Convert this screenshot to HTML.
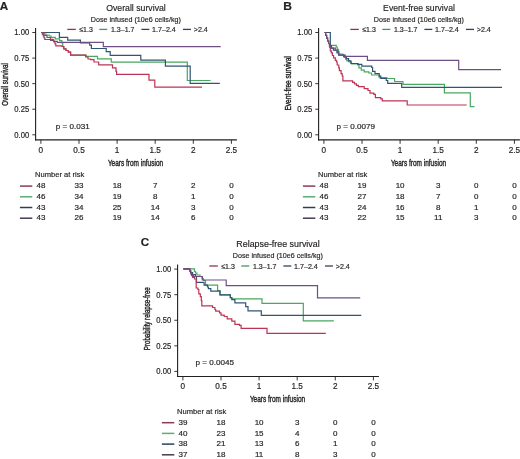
<!DOCTYPE html>
<html><head><meta charset="utf-8"><style>
html,body{margin:0;padding:0;background:#fff;}
svg{display:block;filter:blur(0.3px);}
text{font-family:"Liberation Sans", sans-serif;fill:#231f20;stroke:#231f20;stroke-width:0.18px;}
text.cd{stroke-width:0.4px;}
</style></head><body>
<svg width="520" height="459" viewBox="0 0 520 459">
<rect width="520" height="459" fill="#fff"/>
<text x="-0.30" y="9.80" font-size="10.6" text-anchor="start" font-weight="bold" textLength="8.4" lengthAdjust="spacingAndGlyphs">A</text>
<text x="136.00" y="10.60" font-size="9.8" text-anchor="middle" textLength="59.6" lengthAdjust="spacingAndGlyphs">Overall survival</text>
<text x="135.80" y="21.80" font-size="7.6" text-anchor="middle" textLength="90.0" lengthAdjust="spacingAndGlyphs">Dose infused (10e6 cells/kg)</text>
<line x1="67.30" y1="29.40" x2="75.80" y2="29.40" stroke="#983050" stroke-width="1.3"/>
<text x="79.20" y="31.95" font-size="7.6" text-anchor="start" textLength="13.6" lengthAdjust="spacingAndGlyphs">&#8804;1.3</text>
<line x1="99.30" y1="29.40" x2="107.30" y2="29.40" stroke="#4a9462" stroke-width="1.3"/>
<text x="111.00" y="31.95" font-size="7.6" text-anchor="start" textLength="23.4" lengthAdjust="spacingAndGlyphs">1.3&#8211;1.7</text>
<line x1="141.40" y1="29.40" x2="149.30" y2="29.40" stroke="#2a4560" stroke-width="1.3"/>
<text x="152.00" y="31.95" font-size="7.6" text-anchor="start" textLength="23.8" lengthAdjust="spacingAndGlyphs">1.7&#8211;2.4</text>
<line x1="183.00" y1="29.40" x2="191.00" y2="29.40" stroke="#4a3558" stroke-width="1.3"/>
<text x="193.80" y="31.95" font-size="7.6" text-anchor="start" textLength="14.0" lengthAdjust="spacingAndGlyphs">&gt;2.4</text>
<line x1="35.60" y1="28.00" x2="35.60" y2="140.40" stroke="#231f20" stroke-width="1.1"/>
<line x1="35.05" y1="139.90" x2="236.90" y2="139.90" stroke="#231f20" stroke-width="1.1"/>
<line x1="32.30" y1="32.50" x2="35.60" y2="32.50" stroke="#231f20" stroke-width="0.9"/>
<text x="29.20" y="35.40" font-size="8.2" text-anchor="end" textLength="14.9" lengthAdjust="spacingAndGlyphs">1.00</text>
<line x1="32.30" y1="58.08" x2="35.60" y2="58.08" stroke="#231f20" stroke-width="0.9"/>
<text x="29.20" y="60.98" font-size="8.2" text-anchor="end" textLength="14.9" lengthAdjust="spacingAndGlyphs">0.75</text>
<line x1="32.30" y1="83.65" x2="35.60" y2="83.65" stroke="#231f20" stroke-width="0.9"/>
<text x="29.20" y="86.55" font-size="8.2" text-anchor="end" textLength="14.9" lengthAdjust="spacingAndGlyphs">0.50</text>
<line x1="32.30" y1="109.23" x2="35.60" y2="109.23" stroke="#231f20" stroke-width="0.9"/>
<text x="29.20" y="112.13" font-size="8.2" text-anchor="end" textLength="14.9" lengthAdjust="spacingAndGlyphs">0.25</text>
<line x1="32.30" y1="134.80" x2="35.60" y2="134.80" stroke="#231f20" stroke-width="0.9"/>
<text x="29.20" y="137.70" font-size="8.2" text-anchor="end" textLength="14.9" lengthAdjust="spacingAndGlyphs">0.00</text>
<line x1="40.90" y1="139.90" x2="40.90" y2="143.80" stroke="#231f20" stroke-width="0.9"/>
<text x="40.90" y="152.70" font-size="8.2" text-anchor="middle">0</text>
<line x1="79.00" y1="139.90" x2="79.00" y2="143.80" stroke="#231f20" stroke-width="0.9"/>
<text x="79.00" y="152.70" font-size="8.2" text-anchor="middle">0.5</text>
<line x1="117.10" y1="139.90" x2="117.10" y2="143.80" stroke="#231f20" stroke-width="0.9"/>
<text x="117.10" y="152.70" font-size="8.2" text-anchor="middle">1</text>
<line x1="155.20" y1="139.90" x2="155.20" y2="143.80" stroke="#231f20" stroke-width="0.9"/>
<text x="155.20" y="152.70" font-size="8.2" text-anchor="middle">1.5</text>
<line x1="193.30" y1="139.90" x2="193.30" y2="143.80" stroke="#231f20" stroke-width="0.9"/>
<text x="193.30" y="152.70" font-size="8.2" text-anchor="middle">2</text>
<line x1="231.40" y1="139.90" x2="231.40" y2="143.80" stroke="#231f20" stroke-width="0.9"/>
<text x="231.40" y="152.70" font-size="8.2" text-anchor="middle">2.5</text>
<text x="135.50" y="165.80" font-size="9.2" text-anchor="middle" textLength="55.2" lengthAdjust="spacingAndGlyphs" class="cd">Years from infusion</text>
<text class="cd" x="0" y="0" font-size="9.1" text-anchor="middle" textLength="42.6" lengthAdjust="spacingAndGlyphs" transform="translate(8.10,84.40) rotate(-90)">Overall survival</text>
<text x="72.70" y="128.70" font-size="7.8" text-anchor="middle" textLength="33.9" lengthAdjust="spacingAndGlyphs">p = 0.031</text>
<text x="35.10" y="177.40" font-size="8.0" text-anchor="start" textLength="49.1" lengthAdjust="spacingAndGlyphs">Number at risk</text>
<line x1="19.90" y1="186.10" x2="32.30" y2="186.10" stroke="#8e3a55" stroke-width="1.5"/>
<text x="40.90" y="188.25" font-size="8.0" text-anchor="middle">48</text>
<text x="79.00" y="188.25" font-size="8.0" text-anchor="middle">33</text>
<text x="117.10" y="188.25" font-size="8.0" text-anchor="middle">18</text>
<text x="155.20" y="188.25" font-size="8.0" text-anchor="middle">7</text>
<text x="193.30" y="188.25" font-size="8.0" text-anchor="middle">2</text>
<text x="231.40" y="188.25" font-size="8.0" text-anchor="middle">0</text>
<line x1="19.90" y1="196.80" x2="32.30" y2="196.80" stroke="#5aae76" stroke-width="1.5"/>
<text x="40.90" y="198.95" font-size="8.0" text-anchor="middle">46</text>
<text x="79.00" y="198.95" font-size="8.0" text-anchor="middle">34</text>
<text x="117.10" y="198.95" font-size="8.0" text-anchor="middle">19</text>
<text x="155.20" y="198.95" font-size="8.0" text-anchor="middle">8</text>
<text x="193.30" y="198.95" font-size="8.0" text-anchor="middle">1</text>
<text x="231.40" y="198.95" font-size="8.0" text-anchor="middle">0</text>
<line x1="19.90" y1="207.50" x2="32.30" y2="207.50" stroke="#24405e" stroke-width="1.5"/>
<text x="40.90" y="209.65" font-size="8.0" text-anchor="middle">43</text>
<text x="79.00" y="209.65" font-size="8.0" text-anchor="middle">34</text>
<text x="117.10" y="209.65" font-size="8.0" text-anchor="middle">25</text>
<text x="155.20" y="209.65" font-size="8.0" text-anchor="middle">14</text>
<text x="193.30" y="209.65" font-size="8.0" text-anchor="middle">3</text>
<text x="231.40" y="209.65" font-size="8.0" text-anchor="middle">0</text>
<line x1="19.90" y1="218.20" x2="32.30" y2="218.20" stroke="#4a3852" stroke-width="1.5"/>
<text x="40.90" y="220.35" font-size="8.0" text-anchor="middle">43</text>
<text x="79.00" y="220.35" font-size="8.0" text-anchor="middle">26</text>
<text x="117.10" y="220.35" font-size="8.0" text-anchor="middle">19</text>
<text x="155.20" y="220.35" font-size="8.0" text-anchor="middle">14</text>
<text x="193.30" y="220.35" font-size="8.0" text-anchor="middle">6</text>
<text x="231.40" y="220.35" font-size="8.0" text-anchor="middle">0</text>
<polyline points="41.40,32.50 43.50,32.50 43.50,34.00 46.00,34.00 46.00,35.00 49.20,35.00 49.20,36.00 51.00,36.00 51.00,37.30 55.30,37.30 55.30,38.80 59.60,38.80 59.60,40.60 61.80,40.60 61.80,43.00 62.80,43.00 62.80,46.50 63.80,46.50 63.80,48.80 66.00,48.80 66.00,50.50 68.30,50.50 68.30,52.20 70.60,52.20 70.60,55.10 86.20,55.10 86.20,56.30 97.50,56.30 97.50,58.90 111.30,58.90 111.30,62.20 187.30,62.20 187.30,80.50 210.60,80.50" fill="none" stroke="#48a85e" stroke-width="1.2" stroke-linejoin="miter"/>
<polyline points="41.40,32.50 59.40,32.50 59.40,37.30 67.70,37.30 67.70,40.10 80.40,40.10 80.40,42.80 89.70,42.80 89.70,45.10 91.40,45.10 91.40,48.50 106.20,48.50 106.20,51.70 110.20,51.70 110.20,55.30 140.80,55.30 140.80,60.10 165.40,60.10 165.40,66.20 190.20,66.20 190.20,83.40 219.80,83.40" fill="none" stroke="#2f5573" stroke-width="1.2" stroke-linejoin="miter"/>
<polyline points="41.40,32.50 44.00,32.50 44.00,35.50 47.00,35.50 47.00,37.50 50.40,37.50 50.40,39.30 53.00,39.30 53.00,40.00 54.00,40.00 54.00,41.80 55.00,41.80 55.00,43.80 55.80,43.80 55.80,45.90 62.00,45.90 62.00,46.50 63.80,46.50 63.80,48.80 66.00,48.80 66.00,50.50 68.30,50.50 68.30,52.20 70.60,52.20 70.60,55.10 85.60,55.10 85.60,57.00 88.00,57.00 88.00,59.00 90.50,59.00 90.50,59.70 94.00,59.70 94.00,62.00 98.70,62.00 98.70,64.90 112.50,64.90 112.50,67.80 116.00,67.80 116.00,71.30 116.60,71.30 116.60,74.40 149.00,74.40 149.00,80.10 154.80,80.10 154.80,87.10 202.00,87.10" fill="none" stroke="#bc3355" stroke-width="1.2" stroke-linejoin="miter"/>
<polyline points="41.40,32.50 42.30,32.50 42.30,34.20 43.20,34.20 43.20,36.00 44.00,36.00 44.00,37.80 44.80,37.80 44.80,39.50 50.60,39.50 50.60,40.40 53.50,40.40 53.50,41.40 57.30,41.40 57.30,42.40 103.30,42.40 103.30,46.60 220.70,46.60" fill="none" stroke="#6e4f84" stroke-width="1.2" stroke-linejoin="miter"/>
<text x="283.20" y="9.80" font-size="10.6" text-anchor="start" font-weight="bold" textLength="8.7" lengthAdjust="spacingAndGlyphs">B</text>
<text x="419.00" y="10.60" font-size="9.8" text-anchor="middle" textLength="71.8" lengthAdjust="spacingAndGlyphs">Event-free survival</text>
<text x="418.80" y="21.80" font-size="7.6" text-anchor="middle" textLength="90.0" lengthAdjust="spacingAndGlyphs">Dose infused (10e6 cells/kg)</text>
<line x1="350.30" y1="29.40" x2="358.80" y2="29.40" stroke="#983050" stroke-width="1.3"/>
<text x="362.20" y="31.95" font-size="7.6" text-anchor="start" textLength="13.6" lengthAdjust="spacingAndGlyphs">&#8804;1.3</text>
<line x1="382.30" y1="29.40" x2="390.30" y2="29.40" stroke="#4a9462" stroke-width="1.3"/>
<text x="394.00" y="31.95" font-size="7.6" text-anchor="start" textLength="23.4" lengthAdjust="spacingAndGlyphs">1.3&#8211;1.7</text>
<line x1="424.40" y1="29.40" x2="432.30" y2="29.40" stroke="#2a4560" stroke-width="1.3"/>
<text x="435.00" y="31.95" font-size="7.6" text-anchor="start" textLength="23.8" lengthAdjust="spacingAndGlyphs">1.7&#8211;2.4</text>
<line x1="466.00" y1="29.40" x2="474.00" y2="29.40" stroke="#4a3558" stroke-width="1.3"/>
<text x="476.80" y="31.95" font-size="7.6" text-anchor="start" textLength="14.0" lengthAdjust="spacingAndGlyphs">&gt;2.4</text>
<line x1="318.60" y1="28.00" x2="318.60" y2="140.40" stroke="#231f20" stroke-width="1.1"/>
<line x1="318.05" y1="139.90" x2="519.90" y2="139.90" stroke="#231f20" stroke-width="1.1"/>
<line x1="315.30" y1="32.50" x2="318.60" y2="32.50" stroke="#231f20" stroke-width="0.9"/>
<text x="312.20" y="35.40" font-size="8.2" text-anchor="end" textLength="14.9" lengthAdjust="spacingAndGlyphs">1.00</text>
<line x1="315.30" y1="58.08" x2="318.60" y2="58.08" stroke="#231f20" stroke-width="0.9"/>
<text x="312.20" y="60.98" font-size="8.2" text-anchor="end" textLength="14.9" lengthAdjust="spacingAndGlyphs">0.75</text>
<line x1="315.30" y1="83.65" x2="318.60" y2="83.65" stroke="#231f20" stroke-width="0.9"/>
<text x="312.20" y="86.55" font-size="8.2" text-anchor="end" textLength="14.9" lengthAdjust="spacingAndGlyphs">0.50</text>
<line x1="315.30" y1="109.23" x2="318.60" y2="109.23" stroke="#231f20" stroke-width="0.9"/>
<text x="312.20" y="112.13" font-size="8.2" text-anchor="end" textLength="14.9" lengthAdjust="spacingAndGlyphs">0.25</text>
<line x1="315.30" y1="134.80" x2="318.60" y2="134.80" stroke="#231f20" stroke-width="0.9"/>
<text x="312.20" y="137.70" font-size="8.2" text-anchor="end" textLength="14.9" lengthAdjust="spacingAndGlyphs">0.00</text>
<line x1="323.90" y1="139.90" x2="323.90" y2="143.80" stroke="#231f20" stroke-width="0.9"/>
<text x="323.90" y="152.70" font-size="8.2" text-anchor="middle">0</text>
<line x1="362.00" y1="139.90" x2="362.00" y2="143.80" stroke="#231f20" stroke-width="0.9"/>
<text x="362.00" y="152.70" font-size="8.2" text-anchor="middle">0.5</text>
<line x1="400.10" y1="139.90" x2="400.10" y2="143.80" stroke="#231f20" stroke-width="0.9"/>
<text x="400.10" y="152.70" font-size="8.2" text-anchor="middle">1</text>
<line x1="438.20" y1="139.90" x2="438.20" y2="143.80" stroke="#231f20" stroke-width="0.9"/>
<text x="438.20" y="152.70" font-size="8.2" text-anchor="middle">1.5</text>
<line x1="476.30" y1="139.90" x2="476.30" y2="143.80" stroke="#231f20" stroke-width="0.9"/>
<text x="476.30" y="152.70" font-size="8.2" text-anchor="middle">2</text>
<line x1="514.40" y1="139.90" x2="514.40" y2="143.80" stroke="#231f20" stroke-width="0.9"/>
<text x="514.40" y="152.70" font-size="8.2" text-anchor="middle">2.5</text>
<text x="418.50" y="165.80" font-size="9.2" text-anchor="middle" textLength="55.2" lengthAdjust="spacingAndGlyphs" class="cd">Years from infusion</text>
<text class="cd" x="0" y="0" font-size="9.1" text-anchor="middle" textLength="54.3" lengthAdjust="spacingAndGlyphs" transform="translate(291.10,83.40) rotate(-90)">Event-free survival</text>
<text x="355.70" y="128.70" font-size="7.8" text-anchor="middle" textLength="38.4" lengthAdjust="spacingAndGlyphs">p = 0.0079</text>
<text x="318.10" y="177.40" font-size="8.0" text-anchor="start" textLength="49.1" lengthAdjust="spacingAndGlyphs">Number at risk</text>
<line x1="302.90" y1="186.10" x2="315.30" y2="186.10" stroke="#8e3a55" stroke-width="1.5"/>
<text x="323.90" y="188.25" font-size="8.0" text-anchor="middle">48</text>
<text x="362.00" y="188.25" font-size="8.0" text-anchor="middle">19</text>
<text x="400.10" y="188.25" font-size="8.0" text-anchor="middle">10</text>
<text x="438.20" y="188.25" font-size="8.0" text-anchor="middle">3</text>
<text x="476.30" y="188.25" font-size="8.0" text-anchor="middle">0</text>
<text x="514.40" y="188.25" font-size="8.0" text-anchor="middle">0</text>
<line x1="302.90" y1="196.80" x2="315.30" y2="196.80" stroke="#5aae76" stroke-width="1.5"/>
<text x="323.90" y="198.95" font-size="8.0" text-anchor="middle">46</text>
<text x="362.00" y="198.95" font-size="8.0" text-anchor="middle">27</text>
<text x="400.10" y="198.95" font-size="8.0" text-anchor="middle">18</text>
<text x="438.20" y="198.95" font-size="8.0" text-anchor="middle">7</text>
<text x="476.30" y="198.95" font-size="8.0" text-anchor="middle">0</text>
<text x="514.40" y="198.95" font-size="8.0" text-anchor="middle">0</text>
<line x1="302.90" y1="207.50" x2="315.30" y2="207.50" stroke="#24405e" stroke-width="1.5"/>
<text x="323.90" y="209.65" font-size="8.0" text-anchor="middle">43</text>
<text x="362.00" y="209.65" font-size="8.0" text-anchor="middle">24</text>
<text x="400.10" y="209.65" font-size="8.0" text-anchor="middle">16</text>
<text x="438.20" y="209.65" font-size="8.0" text-anchor="middle">8</text>
<text x="476.30" y="209.65" font-size="8.0" text-anchor="middle">1</text>
<text x="514.40" y="209.65" font-size="8.0" text-anchor="middle">0</text>
<line x1="302.90" y1="218.20" x2="315.30" y2="218.20" stroke="#4a3852" stroke-width="1.5"/>
<text x="323.90" y="220.35" font-size="8.0" text-anchor="middle">43</text>
<text x="362.00" y="220.35" font-size="8.0" text-anchor="middle">22</text>
<text x="400.10" y="220.35" font-size="8.0" text-anchor="middle">15</text>
<text x="438.20" y="220.35" font-size="8.0" text-anchor="middle">11</text>
<text x="476.30" y="220.35" font-size="8.0" text-anchor="middle">3</text>
<text x="514.40" y="220.35" font-size="8.0" text-anchor="middle">0</text>
<polyline points="324.60,32.50 325.60,32.50 325.60,35.30 326.60,35.30 326.60,38.20 327.60,38.20 327.60,41.00 328.60,41.00 328.60,43.50 329.50,43.50 329.50,45.30 336.20,45.30 336.20,47.00 337.20,47.00 337.20,49.30 338.50,49.30 338.50,54.00 342.80,54.00 342.80,55.10 344.00,55.10 344.00,57.40 345.70,57.40 345.70,59.20 346.80,59.20 346.80,60.90 349.20,60.90 349.20,62.00 351.50,62.00 351.50,63.80 357.80,63.80 357.80,64.90 359.00,64.90 359.00,67.80 361.30,67.80 361.30,70.10 364.20,70.10 364.20,71.80 368.80,71.80 368.80,73.00 371.50,73.00 371.50,75.00 379.20,75.00 379.20,77.70 386.90,77.70 386.90,78.50 394.60,78.50 394.60,81.50 403.00,81.50 403.00,84.30 444.40,84.30 444.40,92.90 470.30,92.90 470.30,106.60 474.50,106.60" fill="none" stroke="#48a85e" stroke-width="1.2" stroke-linejoin="miter"/>
<polyline points="324.60,32.50 330.30,32.50 330.30,45.60 331.50,45.60 331.50,48.20 333.40,48.20 333.40,50.10 337.00,50.10 337.00,53.00 338.80,53.00 338.80,55.10 345.10,55.10 345.10,56.80 346.30,56.80 346.30,58.60 348.60,58.60 348.60,60.90 350.90,60.90 350.90,63.50 358.00,63.50 358.00,64.30 361.80,64.30 361.80,66.10 371.70,66.10 371.70,67.50 372.60,67.50 372.60,71.30 375.00,71.30 375.00,73.60 379.20,73.60 379.20,76.20 380.80,76.20 380.80,78.50 386.20,78.50 386.20,80.50 387.70,80.50 387.70,83.40 401.70,83.40 401.70,87.40 502.00,87.40" fill="none" stroke="#2f5573" stroke-width="1.2" stroke-linejoin="miter"/>
<polyline points="324.60,32.50 325.60,32.50 325.60,35.30 326.60,35.30 326.60,38.20 327.60,38.20 327.60,41.00 328.60,41.00 328.60,43.50 329.50,43.50 329.50,47.20 330.30,47.20 330.30,50.80 331.30,50.80 331.30,52.80 332.40,52.80 332.40,55.50 333.60,55.50 333.60,57.80 335.30,57.80 335.30,60.30 336.50,60.30 336.50,62.00 337.20,62.00 337.20,65.00 338.80,65.00 338.80,67.80 339.40,67.80 339.40,70.70 341.10,70.70 341.10,73.60 342.20,73.60 342.20,76.00 342.90,76.00 342.90,80.90 352.60,80.90 352.60,82.30 354.50,82.30 354.50,83.80 356.50,83.80 356.50,85.30 358.40,85.30 358.40,86.70 364.20,86.70 364.20,88.60 368.00,88.60 368.00,90.50 370.00,90.50 370.00,93.10 373.80,93.10 373.80,94.40 375.40,94.40 375.40,97.70 380.80,97.70 380.80,98.90 382.30,98.90 382.30,100.80 407.20,100.80 407.20,105.00 466.70,105.00" fill="none" stroke="#bc3355" stroke-width="1.2" stroke-linejoin="miter"/>
<polyline points="324.60,32.50 325.60,32.50 325.60,35.30 326.60,35.30 326.60,38.20 327.60,38.20 327.60,41.00 328.60,41.00 328.60,43.50 329.50,43.50 329.50,45.30 330.50,45.30 330.50,48.20 335.30,48.20 335.30,50.50 337.00,50.50 337.00,51.70 338.80,51.70 338.80,55.10 343.50,55.10 343.50,56.40 367.40,56.40 367.40,60.40 458.70,60.40 458.70,69.60 501.00,69.60" fill="none" stroke="#6e4f84" stroke-width="1.2" stroke-linejoin="miter"/>
<text x="140.80" y="246.40" font-size="10.6" text-anchor="start" font-weight="bold" textLength="8.4" lengthAdjust="spacingAndGlyphs">C</text>
<text x="278.00" y="247.20" font-size="9.8" text-anchor="middle" textLength="83.3" lengthAdjust="spacingAndGlyphs">Relapse-free survival</text>
<text x="277.80" y="258.40" font-size="7.6" text-anchor="middle" textLength="90.0" lengthAdjust="spacingAndGlyphs">Dose infused (10e6 cells/kg)</text>
<line x1="209.30" y1="266.00" x2="217.80" y2="266.00" stroke="#983050" stroke-width="1.3"/>
<text x="221.20" y="268.55" font-size="7.6" text-anchor="start" textLength="13.6" lengthAdjust="spacingAndGlyphs">&#8804;1.3</text>
<line x1="241.30" y1="266.00" x2="249.30" y2="266.00" stroke="#4a9462" stroke-width="1.3"/>
<text x="253.00" y="268.55" font-size="7.6" text-anchor="start" textLength="23.4" lengthAdjust="spacingAndGlyphs">1.3&#8211;1.7</text>
<line x1="283.40" y1="266.00" x2="291.30" y2="266.00" stroke="#2a4560" stroke-width="1.3"/>
<text x="294.00" y="268.55" font-size="7.6" text-anchor="start" textLength="23.8" lengthAdjust="spacingAndGlyphs">1.7&#8211;2.4</text>
<line x1="325.00" y1="266.00" x2="333.00" y2="266.00" stroke="#4a3558" stroke-width="1.3"/>
<text x="335.80" y="268.55" font-size="7.6" text-anchor="start" textLength="14.0" lengthAdjust="spacingAndGlyphs">&gt;2.4</text>
<line x1="177.60" y1="264.60" x2="177.60" y2="377.00" stroke="#231f20" stroke-width="1.1"/>
<line x1="177.05" y1="376.50" x2="378.90" y2="376.50" stroke="#231f20" stroke-width="1.1"/>
<line x1="174.30" y1="269.10" x2="177.60" y2="269.10" stroke="#231f20" stroke-width="0.9"/>
<text x="171.20" y="272.00" font-size="8.2" text-anchor="end" textLength="14.9" lengthAdjust="spacingAndGlyphs">1.00</text>
<line x1="174.30" y1="294.68" x2="177.60" y2="294.68" stroke="#231f20" stroke-width="0.9"/>
<text x="171.20" y="297.57" font-size="8.2" text-anchor="end" textLength="14.9" lengthAdjust="spacingAndGlyphs">0.75</text>
<line x1="174.30" y1="320.25" x2="177.60" y2="320.25" stroke="#231f20" stroke-width="0.9"/>
<text x="171.20" y="323.15" font-size="8.2" text-anchor="end" textLength="14.9" lengthAdjust="spacingAndGlyphs">0.50</text>
<line x1="174.30" y1="345.83" x2="177.60" y2="345.83" stroke="#231f20" stroke-width="0.9"/>
<text x="171.20" y="348.73" font-size="8.2" text-anchor="end" textLength="14.9" lengthAdjust="spacingAndGlyphs">0.25</text>
<line x1="174.30" y1="371.40" x2="177.60" y2="371.40" stroke="#231f20" stroke-width="0.9"/>
<text x="171.20" y="374.30" font-size="8.2" text-anchor="end" textLength="14.9" lengthAdjust="spacingAndGlyphs">0.00</text>
<line x1="182.90" y1="376.50" x2="182.90" y2="380.40" stroke="#231f20" stroke-width="0.9"/>
<text x="182.90" y="389.30" font-size="8.2" text-anchor="middle">0</text>
<line x1="221.00" y1="376.50" x2="221.00" y2="380.40" stroke="#231f20" stroke-width="0.9"/>
<text x="221.00" y="389.30" font-size="8.2" text-anchor="middle">0.5</text>
<line x1="259.10" y1="376.50" x2="259.10" y2="380.40" stroke="#231f20" stroke-width="0.9"/>
<text x="259.10" y="389.30" font-size="8.2" text-anchor="middle">1</text>
<line x1="297.20" y1="376.50" x2="297.20" y2="380.40" stroke="#231f20" stroke-width="0.9"/>
<text x="297.20" y="389.30" font-size="8.2" text-anchor="middle">1.5</text>
<line x1="335.30" y1="376.50" x2="335.30" y2="380.40" stroke="#231f20" stroke-width="0.9"/>
<text x="335.30" y="389.30" font-size="8.2" text-anchor="middle">2</text>
<line x1="373.40" y1="376.50" x2="373.40" y2="380.40" stroke="#231f20" stroke-width="0.9"/>
<text x="373.40" y="389.30" font-size="8.2" text-anchor="middle">2.5</text>
<text x="277.50" y="402.40" font-size="9.2" text-anchor="middle" textLength="55.2" lengthAdjust="spacingAndGlyphs" class="cd">Years from infusion</text>
<text class="cd" x="0" y="0" font-size="9.1" text-anchor="middle" textLength="62.9" lengthAdjust="spacingAndGlyphs" transform="translate(150.10,318.70) rotate(-90)">Probability relapse-free</text>
<text x="214.70" y="365.30" font-size="7.8" text-anchor="middle" textLength="38.6" lengthAdjust="spacingAndGlyphs">p = 0.0045</text>
<text x="177.10" y="414.00" font-size="8.0" text-anchor="start" textLength="49.1" lengthAdjust="spacingAndGlyphs">Number at risk</text>
<line x1="161.90" y1="422.70" x2="174.30" y2="422.70" stroke="#8e3a55" stroke-width="1.5"/>
<text x="182.90" y="424.85" font-size="8.0" text-anchor="middle">39</text>
<text x="221.00" y="424.85" font-size="8.0" text-anchor="middle">18</text>
<text x="259.10" y="424.85" font-size="8.0" text-anchor="middle">10</text>
<text x="297.20" y="424.85" font-size="8.0" text-anchor="middle">3</text>
<text x="335.30" y="424.85" font-size="8.0" text-anchor="middle">0</text>
<text x="373.40" y="424.85" font-size="8.0" text-anchor="middle">0</text>
<line x1="161.90" y1="433.40" x2="174.30" y2="433.40" stroke="#5aae76" stroke-width="1.5"/>
<text x="182.90" y="435.55" font-size="8.0" text-anchor="middle">40</text>
<text x="221.00" y="435.55" font-size="8.0" text-anchor="middle">23</text>
<text x="259.10" y="435.55" font-size="8.0" text-anchor="middle">15</text>
<text x="297.20" y="435.55" font-size="8.0" text-anchor="middle">4</text>
<text x="335.30" y="435.55" font-size="8.0" text-anchor="middle">0</text>
<text x="373.40" y="435.55" font-size="8.0" text-anchor="middle">0</text>
<line x1="161.90" y1="444.10" x2="174.30" y2="444.10" stroke="#24405e" stroke-width="1.5"/>
<text x="182.90" y="446.25" font-size="8.0" text-anchor="middle">38</text>
<text x="221.00" y="446.25" font-size="8.0" text-anchor="middle">21</text>
<text x="259.10" y="446.25" font-size="8.0" text-anchor="middle">13</text>
<text x="297.20" y="446.25" font-size="8.0" text-anchor="middle">6</text>
<text x="335.30" y="446.25" font-size="8.0" text-anchor="middle">1</text>
<text x="373.40" y="446.25" font-size="8.0" text-anchor="middle">0</text>
<line x1="161.90" y1="454.80" x2="174.30" y2="454.80" stroke="#4a3852" stroke-width="1.5"/>
<text x="182.90" y="456.95" font-size="8.0" text-anchor="middle">37</text>
<text x="221.00" y="456.95" font-size="8.0" text-anchor="middle">18</text>
<text x="259.10" y="456.95" font-size="8.0" text-anchor="middle">11</text>
<text x="297.20" y="456.95" font-size="8.0" text-anchor="middle">8</text>
<text x="335.30" y="456.95" font-size="8.0" text-anchor="middle">3</text>
<text x="373.40" y="456.95" font-size="8.0" text-anchor="middle">0</text>
<polyline points="183.40,268.90 194.50,268.90 194.50,271.50 195.50,271.50 195.50,273.00 197.00,273.00 197.00,275.00 200.00,275.00 200.00,276.50 202.00,276.50 202.00,278.50 203.50,278.50 203.50,280.50 205.50,280.50 205.50,285.20 217.60,285.20 217.60,290.50 220.00,290.50 220.00,294.90 230.30,294.90 230.30,297.70 231.80,297.70 231.80,298.80 262.00,298.80 262.00,303.30 303.30,303.30 303.30,320.80 333.80,320.80" fill="none" stroke="#48a85e" stroke-width="1.2" stroke-linejoin="miter"/>
<polyline points="183.40,268.90 189.70,268.90 189.70,270.50 190.70,270.50 190.70,272.70 192.60,272.70 192.60,274.60 195.50,274.60 195.50,276.50 196.50,276.50 196.50,282.30 204.10,282.30 204.10,285.20 207.50,285.20 207.50,287.00 208.40,287.00 208.40,288.60 210.80,288.60 210.80,291.20 220.00,291.20 220.00,294.90 230.30,294.90 230.30,297.70 231.80,297.70 231.80,299.70 234.90,299.70 234.90,302.80 245.70,302.80 245.70,306.60 248.00,306.60 248.00,310.90 261.30,310.90 261.30,315.30 361.30,315.30" fill="none" stroke="#2f5573" stroke-width="1.2" stroke-linejoin="miter"/>
<polyline points="183.40,268.90 189.70,268.90 189.70,271.50 190.70,271.50 190.70,273.70 191.60,273.70 191.60,275.60 192.60,275.60 192.60,277.50 194.50,277.50 194.50,279.00 196.20,279.00 196.20,288.00 197.90,288.00 197.90,289.50 198.80,289.50 198.80,293.80 200.30,293.80 200.30,296.70 201.30,296.70 201.30,300.60 201.80,300.60 201.80,305.80 212.60,305.80 212.60,307.50 214.90,307.50 214.90,309.50 215.70,309.50 215.70,311.20 219.50,311.20 219.50,312.80 221.00,312.80 221.00,315.10 224.20,315.10 224.20,316.50 227.20,316.50 227.20,318.90 231.80,318.90 231.80,321.20 234.90,321.20 234.90,324.30 239.50,324.30 239.50,325.30 241.10,325.30 241.10,328.30 267.00,328.30 267.00,333.30 325.80,333.30" fill="none" stroke="#bc3355" stroke-width="1.2" stroke-linejoin="miter"/>
<polyline points="183.40,268.90 189.70,268.90 189.70,270.50 190.50,270.50 190.50,272.50 191.30,272.50 191.30,274.60 193.50,274.60 193.50,276.50 202.40,276.50 202.40,280.00 226.20,280.00 226.20,285.60 317.50,285.60 317.50,297.80 360.20,297.80" fill="none" stroke="#6e4f84" stroke-width="1.2" stroke-linejoin="miter"/>
</svg></body></html>
